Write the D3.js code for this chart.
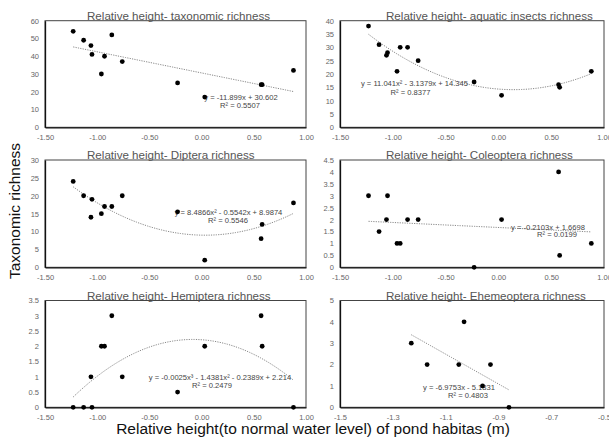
<!DOCTYPE html>
<html>
<head>
<meta charset="utf-8">
<script src="https://cdn.jsdelivr.net/npm/d3@7"></script>
<style>
  body { margin: 0; background: #fff; }
  svg { font-family: "Liberation Sans", Arial, sans-serif; display: block; }
</style>
</head>
<body>
<div id="plot"></div>
<script>
// site positions (relative height, m) shared by the first five panels
const siteX = [-1.23, -1.13, -1.06, -1.05, -0.96, -0.93, -0.86, -0.76, -0.23, 0.03, 0.57, 0.58, 0.88];
const taxonomic = [54, 49, 46, 41, 30, 40, 52, 37, 25, 17, 24, 24, 32];
const aquatic = [38, 31, 27, 28, 21, 30, 30, 25, 17, 12, 16, 15, 21];
const diptera = [24, 20, 14, 19, 15, 17, 17, 20, 15.5, 2, 8, 12, 18];
const coleoptera = [3, 1.5, 2, 3, 1, 1, 2, 2, 0, 2, 4, 0.5, 1];
const hemiptera = [0, 0, 1, 0, 2, 2, 3, 1, 0.5, 2, 3, 2, 0];

// ephemeroptera panel has its own x range
const ephX = [-1.23, -1.17, -1.05, -1.03, -0.96, -0.93, -0.86];
const ephemeroptera = [3, 2, 2, 4, 1, 2, 0];

// trendline coefficients, constant term first
const fitTaxonomic = [30.602, -11.899];
const fitAquatic = [14.345, -3.1379, 11.041];
const fitDiptera = [8.9874, -0.5542, 8.4866];
const fitColeoptera = [1.6698, -0.2103];
const fitHemiptera = [2.214, -0.2389, -1.4381, -0.0025];
const fitEph = [-5.1831, -6.9753];

// axis ticks
const xTicksWide = [-1.5, -1, -0.5, 0, 0.5, 1];
const xTicksEph = [-1.5, -1.3, -1.1, -0.9, -0.7, -0.5];
const yTicks60 = [0, 10, 20, 30, 40, 50, 60];
const yTicks40 = [0, 5, 10, 15, 20, 25, 30, 35, 40];
const yTicks30 = [0, 5, 10, 15, 20, 25, 30];
const yTicks45 = [0, 0.5, 1, 1.5, 2, 2.5, 3, 3.5, 4, 4.5];
const yTicks35 = [0, 0.5, 1, 1.5, 2, 2.5, 3, 3.5];
const yTicks5 = [0, 1, 2, 3, 4, 5];

const W = 609, H = 438;
const cols = [[45, 306], [340, 604]];
const rows = [[20.7, 127.3], [160, 267.3], [300.5, 407.3]];

const panels = [
  { col: 0, row: 0, title: 'Relative height- taxonomic richness', xs: siteX, ys: taxonomic, fit: fitTaxonomic,
    xTicks: xTicksWide, xFmt: 2, yTicks: yTicks60,
    eq: 'y = -11.899x + 30.602', r2: 'R² = 0.5507', eqAt: [241, 99.5], r2At: [240, 107.5] },
  { col: 1, row: 0, title: 'Relative height- aquatic insects richness', xs: siteX, ys: aquatic, fit: fitAquatic,
    xTicks: xTicksWide, xFmt: 2, yTicks: yTicks40,
    eq: 'y = 11.041x² - 3.1379x + 14.345', r2: 'R² = 0.8377', eqAt: [414.5, 86], r2At: [410.5, 94.5] },
  { col: 0, row: 1, title: 'Relative height- Diptera richness', xs: siteX, ys: diptera, fit: fitDiptera,
    xTicks: xTicksWide, xFmt: 2, yTicks: yTicks30,
    eq: 'y = 8.4866x² - 0.5542x + 8.9874', r2: 'R² = 0.5546', eqAt: [228.5, 214.5], r2At: [228, 223] },
  { col: 1, row: 1, title: 'Relative height- Coleoptera richness', xs: siteX, ys: coleoptera, fit: fitColeoptera,
    xTicks: xTicksWide, xFmt: 2, yTicks: yTicks45,
    eq: 'y = -0.2103x + 1.6698', r2: 'R² = 0.0199', eqAt: [548, 229.5], r2At: [557, 237] },
  { col: 0, row: 2, title: 'Relative height- Hemiptera richness', xs: siteX, ys: hemiptera, fit: fitHemiptera,
    xTicks: xTicksWide, xFmt: 2, yTicks: yTicks35,
    eq: 'y = -0.0025x³ - 1.4381x² - 0.2389x + 2.214', r2: 'R² = 0.2479', eqAt: [220, 379.5], r2At: [212, 388] },
  { col: 1, row: 2, title: 'Relative height- Ehemeoptera richness', xs: ephX, ys: ephemeroptera, fit: fitEph,
    xTicks: xTicksEph, xFmt: 1, yTicks: yTicks5,
    eq: 'y = -6.9753x - 5.1831', r2: 'R² = 0.4803', eqAt: [459, 389.5], r2At: [468, 397.5] }
];

const svg = d3.select('#plot').append('svg')
  .attr('width', W)
  .attr('height', H);

const poly = (c, x) => c.reduce((s, k, i) => s + k * Math.pow(x, i), 0);

panels.forEach(p => {
  const [x0, x1] = cols[p.col];
  const [y0, y1] = rows[p.row];
  const g = svg.append('g');

  const x = d3.scaleLinear()
    .domain(d3.extent(p.xTicks))
    .range([x0, x1]);
  const y = d3.scaleLinear()
    .domain([0, d3.max(p.yTicks)])
    .range([y1, y0]);

  // frame
  g.append('rect')
    .attr('x', x0).attr('y', y0)
    .attr('width', x1 - x0).attr('height', y1 - y0)
    .attr('fill', '#fff')
    .attr('stroke', '#444')
    .attr('stroke-width', 1);

  // axes (lines + labels only, no tick marks)
  const xAxis = d3.axisBottom(x)
    .tickValues(p.xTicks)
    .tickSize(0)
    .tickPadding(7)
    .tickFormat(d => d.toFixed(p.xFmt));
  const yAxis = d3.axisLeft(y)
    .tickValues(p.yTicks)
    .tickSize(0)
    .tickPadding(6)
    .tickFormat(d => String(+d.toFixed(2)));

  const gx = g.append('g')
    .attr('transform', `translate(0,${y1})`)
    .call(xAxis);
  const gy = g.append('g')
    .attr('transform', `translate(${x0},0)`)
    .call(yAxis);
  [gx, gy].forEach(a => {
    a.select('.domain').attr('stroke', '#111').attr('stroke-width', 1.3);
    a.selectAll('text')
      .attr('fill', '#666')
      .style('font-size', '7.5px');
  });

  // title sits on the top border
  g.append('text')
    .attr('x', p.col === 0 ? x0 + 42 : x0 + 46)
    .attr('y', y0 - 1)
    .attr('fill', '#555')
    .style('font-size', '11.6px')
    .text(p.title);

  // trendline
  const [fx0, fx1] = d3.extent(p.xs);
  const fxs = d3.range(0, 81).map(i => fx0 + (fx1 - fx0) * i / 80);
  g.append('path')
    .datum(fxs)
    .attr('fill', 'none')
    .attr('stroke', '#888')
    .attr('stroke-width', 1)
    .attr('stroke-dasharray', '1.2,1.2')
    .attr('d', d3.line()
      .x(d => x(d))
      .y(d => y(poly(p.fit, d))));

  // equation and R²
  g.append('text')
    .attr('x', p.eqAt[0]).attr('y', p.eqAt[1])
    .attr('text-anchor', 'middle')
    .attr('fill', '#444')
    .style('font-size', '7.6px')
    .text(p.eq);
  g.append('text')
    .attr('x', p.r2At[0]).attr('y', p.r2At[1])
    .attr('text-anchor', 'middle')
    .attr('fill', '#444')
    .style('font-size', '7.6px')
    .text(p.r2);

  // points
  g.selectAll('circle')
    .data(p.xs.map((v, i) => [v, p.ys[i]]))
    .join('circle')
    .attr('cx', d => x(d[0]))
    .attr('cy', d => y(d[1]))
    .attr('r', 2.4)
    .attr('fill', '#000');
});

// shared axis titles
svg.append('text')
  .attr('transform', 'translate(19.5,211) rotate(-90)')
  .attr('text-anchor', 'middle')
  .attr('fill', '#111')
  .style('font-size', '15.5px')
  .text('Taxonomic richness');

svg.append('text')
  .attr('x', 313)
  .attr('y', 434)
  .attr('text-anchor', 'middle')
  .attr('fill', '#111')
  .style('font-size', '15.5px')
  .text('Relative height(to normal water level) of pond habitas (m)');
</script>
</body>
</html>
